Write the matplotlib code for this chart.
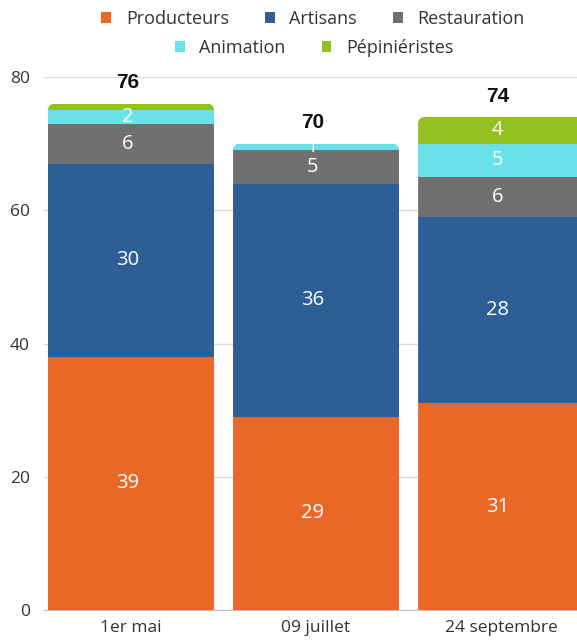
import matplotlib
matplotlib.use("Agg")
import matplotlib.pyplot as plt
import numpy as np
from matplotlib.path import Path
from matplotlib.patches import PathPatch

# dates
dates = ["1er mai", "09 juillet", "24 septembre"]
series = ["Producteurs", "Artisans", "Restauration", "Animation", "Pépiniéristes"]

# bar heights as drawn
producteurs = [38, 29, 31]
artisans = [29, 35, 28]
restauration = [6, 5, 6]
animation = [2, 1, 5]
pepinieristes = [1, 0, 4]

# labels as printed on the bars
lab_producteurs = ["39", "29", "31"]
lab_artisans = ["30", "36", "28"]
lab_restauration = ["6", "5", "6"]
lab_animation = ["2", "1", "5"]
lab_pepinieristes = ["", "", "4"]
totals = ["76", "70", "74"]

colors = ["#EA6728", "#2E5E96", "#707070", "#68E2E8", "#94C01F"]

plt.rcParams["font.family"] = ["Open Sans", "DejaVu Sans"]

fig = plt.figure(figsize=(5.77, 6.42), dpi=100)
ax = fig.add_axes([44 / 577, 32 / 642, 533 / 577, 533 / 642])

x = np.arange(len(dates))
width = 0.897
ax.set_xlim(-0.47, 2.41)
ax.set_ylim(0, 80)

data = [producteurs, artisans, restauration, animation, pepinieristes]
labels = [lab_producteurs, lab_artisans, lab_restauration, lab_animation, lab_pepinieristes]
stack_top = np.array([sum(v) for v in zip(*data)], dtype=float)

# outline of each bar with rounded top corners, used as clip path
rpx = 7
rx = rpx / 185.0
ry = rpx / (533 / 80.0)
clips = []
for i in range(len(dates)):
    x0, x1, top = x[i] - width / 2, x[i] + width / 2, stack_top[i]
    verts = [(x0, 0), (x1, 0), (x1, top - ry), (x1, top), (x1 - rx, top),
             (x0 + rx, top), (x0, top), (x0, top - ry), (x0, 0)]
    codes = [Path.MOVETO, Path.LINETO, Path.LINETO, Path.CURVE3, Path.CURVE3,
             Path.LINETO, Path.CURVE3, Path.CURVE3, Path.CLOSEPOLY]
    p = PathPatch(Path(verts, codes), facecolor="none", edgecolor="none")
    ax.add_patch(p)
    clips.append(p)

bottom = np.zeros(len(dates))
handles = []
for vals, labs, col, name in zip(data, labels, colors, series):
    bars = ax.bar(x, vals, width, bottom=bottom, color=col, label=name, zorder=2)
    handles.append(bars)
    for i, b in enumerate(bars):
        b.set_clip_path(clips[i])
        if labs[i] and vals[i] > 0:
            ax.text(x[i] - 0.02, bottom[i] + vals[i] / 2, labs[i], ha="center", va="center",
                    color="white", fontsize=14.5, zorder=3)
    bottom += np.array(vals)

for i in range(len(dates)):
    ax.annotate(totals[i], (x[i] - 0.02, stack_top[i]), xytext=(0, 15), textcoords="offset points",
                ha="center", va="center", fontsize=15, fontweight="bold",
                family="Liberation Sans", color="#111111", annotation_clip=False)

ax.set_yticks([0, 20, 40, 60, 80])
ax.set_xticks(x, dates)
ax.yaxis.grid(True, color="#D9D9D9", linewidth=1, zorder=0)
ax.set_axisbelow(True)
for s in ["top", "right", "left"]:
    ax.spines[s].set_visible(False)
ax.spines["bottom"].set_color("#BFBFBF")
ax.spines["bottom"].set_zorder(4)
ax.tick_params(axis="both", which="both", length=0, labelsize=12.5, colors="#333333")
ax.tick_params(axis="y", pad=10)
ax.tick_params(axis="x", pad=7)

leg_kw = dict(frameon=False, fontsize=13, handlelength=0.55, handleheight=0.55,
              handletextpad=0.8, columnspacing=2.0, borderaxespad=0, labelcolor="#333333")
leg1 = fig.legend(handles[:3], series[:3], loc="center", ncol=3,
                  bbox_to_anchor=(313 / 577, 1 - 19 / 642), **leg_kw)
leg2 = fig.legend(handles[3:], series[3:], loc="center", ncol=2,
                  bbox_to_anchor=(314 / 577, 1 - 48 / 642), **leg_kw)

fig.savefig("out.png", dpi=100)
